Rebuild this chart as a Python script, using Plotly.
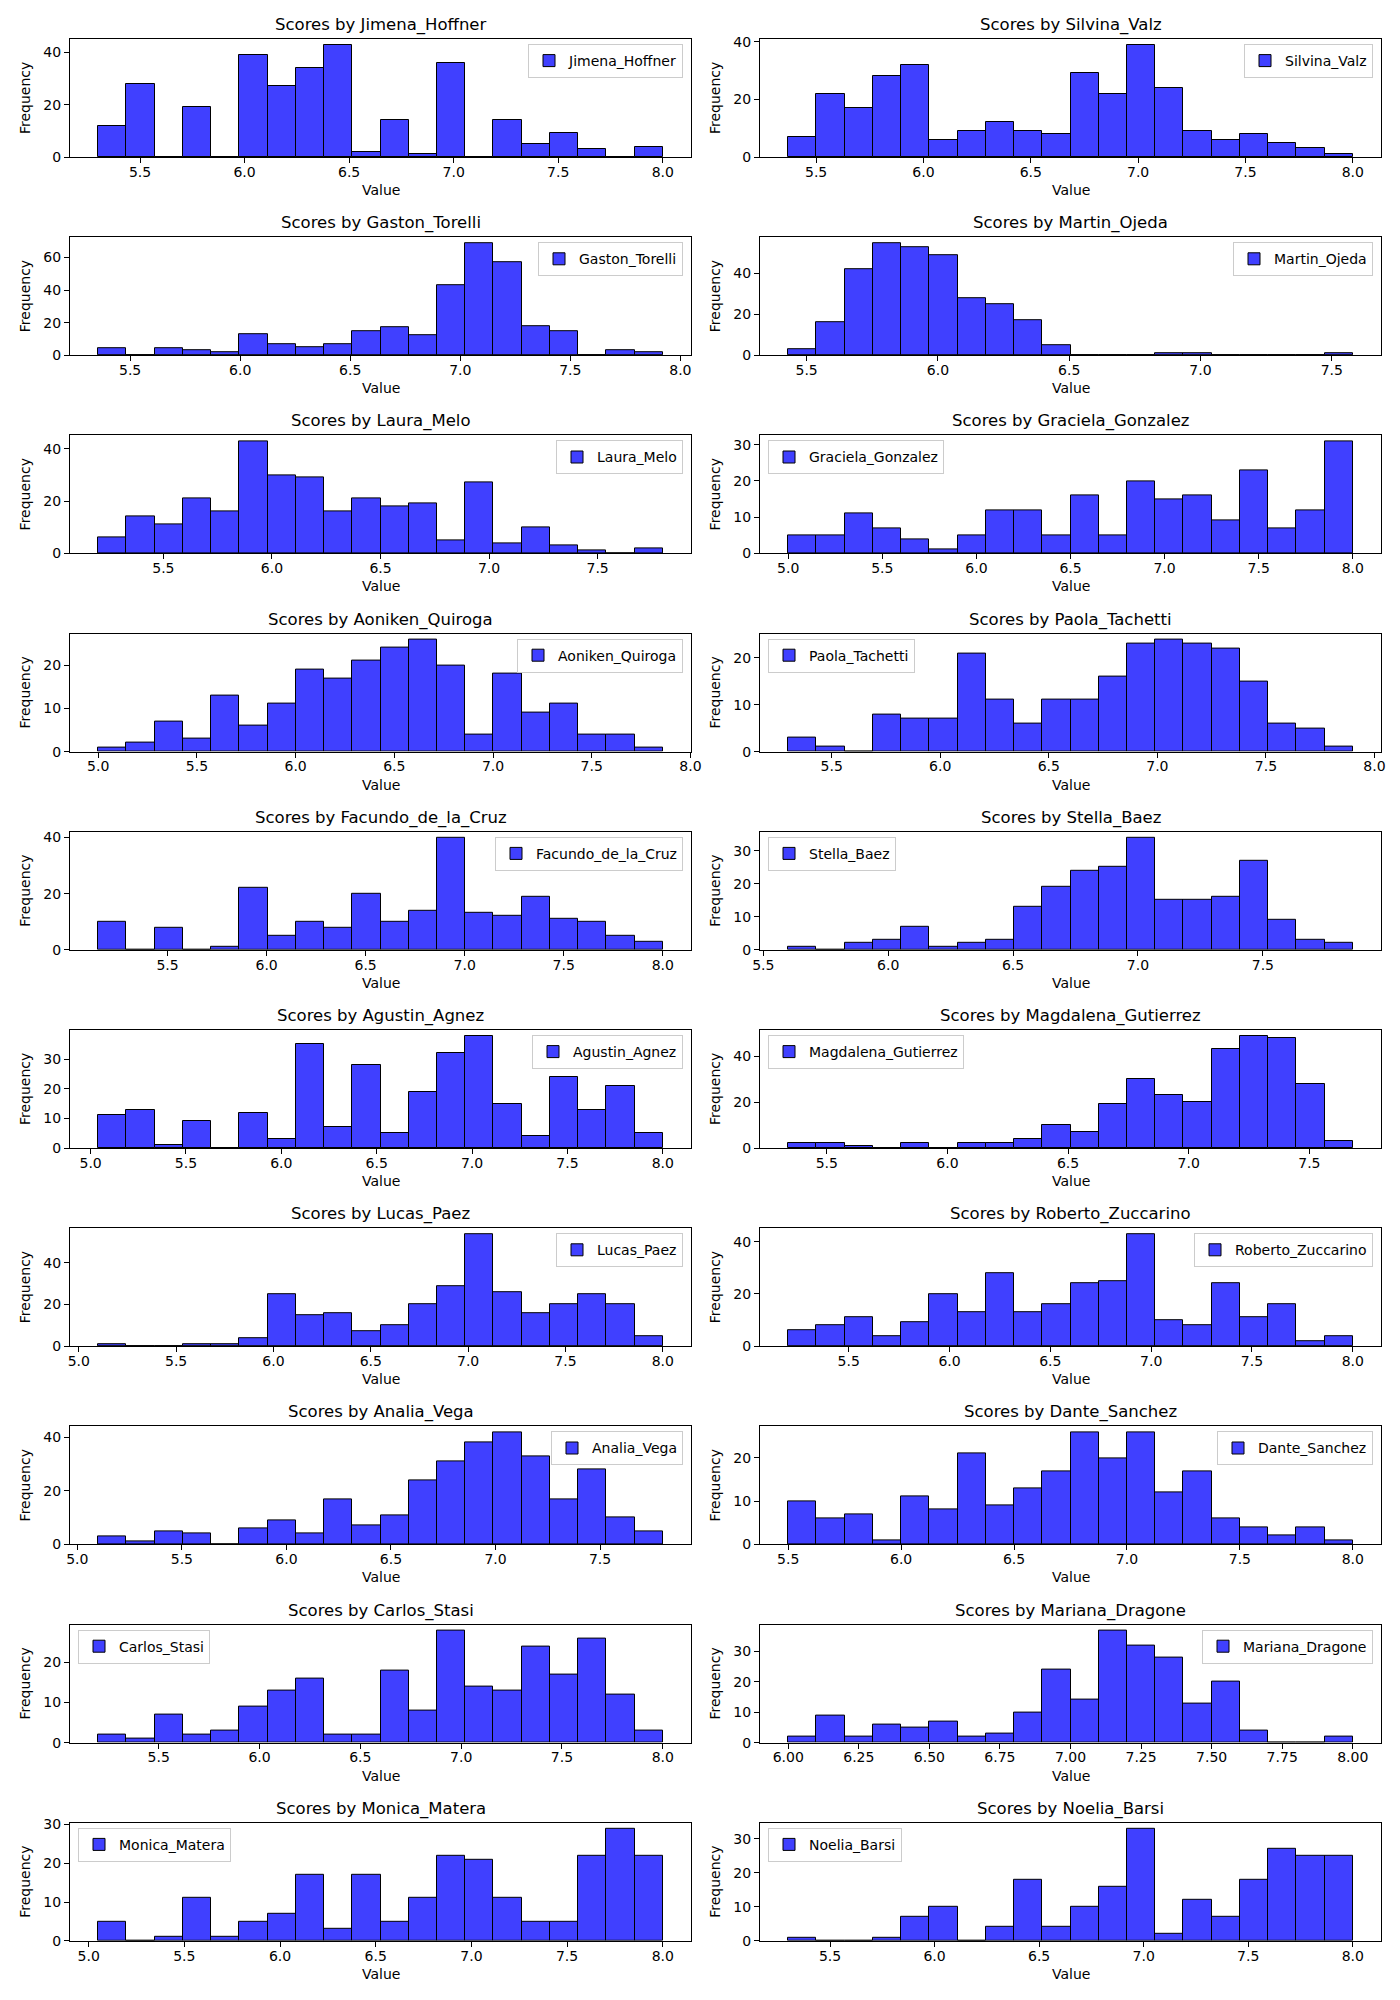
import plotly.graph_objects as go

names = ["Jimena_Hoffner", "Silvina_Valz", "Gaston_Torelli", "Martin_Ojeda",
         "Laura_Melo", "Graciela_Gonzalez", "Aoniken_Quiroga", "Paola_Tachetti",
         "Facundo_de_la_Cruz", "Stella_Baez", "Agustin_Agnez", "Magdalena_Gutierrez",
         "Lucas_Paez", "Roberto_Zuccarino", "Analia_Vega", "Dante_Sanchez",
         "Carlos_Stasi", "Mariana_Dragone", "Monica_Matera", "Noelia_Barsi"]

bin_lo = [5.30, 5.37, 5.355, 5.43, 5.20, 5.00, 5.00, 5.30, 5.15, 5.60,
          5.04, 5.34, 5.10, 5.20, 5.10, 5.50, 5.20, 6.00, 5.05, 5.30]
bin_hi = [8.00, 8.00, 7.92, 7.58, 7.80, 8.00, 7.86, 7.90, 8.00, 7.86,
          8.00, 7.68, 8.00, 8.00, 7.80, 8.00, 8.00, 8.00, 8.00, 8.00]

counts_jimena = [12, 28, 0, 19, 0, 39, 27, 34, 43, 2, 14, 1, 36, 0, 14, 5, 9, 3, 0, 4]
counts_silvina = [7, 22, 17, 28, 32, 6, 9, 12, 9, 8, 29, 22, 39, 24, 9, 6, 8, 5, 3, 1]
counts_gaston = [4, 0, 4, 3, 2, 13, 7, 5, 7, 15, 17, 12, 43, 69, 57, 18, 15, 0, 3, 2]
counts_martin = [3, 16, 42, 55, 53, 49, 28, 25, 17, 5, 0, 0, 0, 1, 1, 0, 0, 0, 0, 1]
counts_laura = [6, 14, 11, 21, 16, 43, 30, 29, 16, 21, 18, 19, 5, 27, 4, 10, 3, 1, 0, 2]
counts_graciela = [5, 5, 11, 7, 4, 1, 5, 12, 12, 5, 16, 5, 20, 15, 16, 9, 23, 7, 12, 31]
counts_aoniken = [1, 2, 7, 3, 13, 6, 11, 19, 17, 21, 24, 26, 20, 4, 18, 9, 11, 4, 4, 1]
counts_paola = [3, 1, 0, 8, 7, 7, 21, 11, 6, 11, 11, 16, 23, 24, 23, 22, 15, 6, 5, 1]
counts_facundo = [10, 0, 8, 0, 1, 22, 5, 10, 8, 20, 10, 14, 40, 13, 12, 19, 11, 10, 5, 3]
counts_stella = [1, 0, 2, 3, 7, 1, 2, 3, 13, 19, 24, 25, 34, 15, 15, 16, 27, 9, 3, 2]
counts_agustin = [11, 13, 1, 9, 0, 12, 3, 35, 7, 28, 5, 19, 32, 38, 15, 4, 24, 13, 21, 5]
counts_magdalena = [2, 2, 1, 0, 2, 0, 2, 2, 4, 10, 7, 19, 30, 23, 20, 43, 49, 48, 28, 3]
counts_lucas = [1, 0, 0, 1, 1, 4, 25, 15, 16, 7, 10, 20, 29, 54, 26, 16, 20, 25, 20, 5]
counts_roberto = [6, 8, 11, 4, 9, 20, 13, 28, 13, 16, 24, 25, 43, 10, 8, 24, 11, 16, 2, 4]
counts_analia = [3, 1, 5, 4, 0, 6, 9, 4, 17, 7, 11, 24, 31, 38, 42, 33, 17, 28, 10, 5]
counts_dante = [10, 6, 7, 1, 11, 8, 21, 9, 13, 17, 26, 20, 26, 12, 17, 6, 4, 2, 4, 1]
counts_carlos = [2, 1, 7, 2, 3, 9, 13, 16, 2, 2, 18, 8, 28, 14, 13, 24, 17, 26, 12, 3]
counts_mariana = [2, 9, 2, 6, 5, 7, 2, 3, 10, 24, 14, 37, 32, 28, 13, 20, 4, 0, 0, 2]
counts_monica = [5, 0, 1, 11, 1, 5, 7, 17, 3, 17, 5, 11, 22, 21, 11, 5, 5, 22, 29, 22]
counts_noelia = [1, 0, 0, 1, 7, 10, 0, 4, 18, 4, 10, 16, 33, 2, 12, 7, 18, 27, 25, 25]

all_counts = [counts_jimena, counts_silvina, counts_gaston, counts_martin,
              counts_laura, counts_graciela, counts_aoniken, counts_paola,
              counts_facundo, counts_stella, counts_agustin, counts_magdalena,
              counts_lucas, counts_roberto, counts_analia, counts_dante,
              counts_carlos, counts_mariana, counts_monica, counts_noelia]

legend_side = ["right", "right", "right", "right", "right", "left", "right", "left",
               "right", "left", "right", "left", "right", "right", "right", "right",
               "left", "right", "left", "left"]

x_tick_step = [0.5] * 17 + [0.25] + [0.5, 0.5]

W, H = 1400, 2000
col_px = [(62, 683), (752, 1373)]
top0, pitch, ax_h = 31, 198.2, 118

FONT = "DejaVu Sans"
fig = go.Figure()
annotations = []
layout = {}

for i, name in enumerate(names):
    r, c = divmod(i, 2)
    counts = all_counts[i]
    lo, hi = bin_lo[i], bin_hi[i]
    n = len(counts)
    bw = (hi - lo) / n
    centers = [lo + bw * (k + 0.5) for k in range(n)]

    left, right = col_px[c]
    top = top0 + pitch * r
    bottom = top + ax_h
    xd = [left / W, right / W]
    yd = [1 - bottom / H, 1 - top / H]

    sfx = "" if i == 0 else str(i + 1)
    leg = "legend" + sfx

    fig.add_trace(go.Bar(
        x=centers, y=counts, width=bw, name=name,
        marker=dict(color="rgba(0,0,255,0.75)", line=dict(color="black", width=1)),
        xaxis="x" + sfx, yaxis="y" + sfx, legend=leg, showlegend=True,
    ))

    span = hi - lo
    ymax = max(counts) * 1.05
    ystep = 10 if ymax < 40 else 20
    xstep = x_tick_step[i]

    common = dict(showline=True, mirror=True, linecolor="black", linewidth=1,
                  ticks="outside", ticklen=5, tickwidth=1, tickcolor="black",
                  showgrid=False, zeroline=False, automargin=False,
                  tickfont=dict(family=FONT, size=14, color="black"))
    layout["xaxis" + sfx] = dict(domain=xd, anchor="y" + sfx,
                                 range=[lo - 0.05 * span, hi + 0.05 * span],
                                 tick0=0, dtick=xstep, ticklabelstandoff=-3,
                                 tickformat=".2f" if xstep < 0.5 else ".1f", **common)
    layout["yaxis" + sfx] = dict(domain=yd, anchor="x" + sfx, range=[0, ymax],
                                 tick0=0, dtick=ystep, **common)

    if legend_side[i] == "right":
        lx, xa = (right - 8) / W, "right"
    else:
        lx, xa = (left + 8) / W, "left"
    layout[leg] = dict(x=lx, xanchor=xa, y=1 - (top + 5) / H, yanchor="top",
                       bgcolor="rgba(255,255,255,0.8)", bordercolor="#cccccc",
                       borderwidth=1, font=dict(family=FONT, size=14, color="black"),
                       itemclick=False)

    cx = (left + right) / 2 / W
    annotations.append(dict(text=f"Scores by {name}", x=cx, y=1 - (top - 14) / H,
                            xref="paper", yref="paper", xanchor="center", yanchor="middle",
                            showarrow=False, font=dict(family=FONT, size=16.5, color="black")))
    annotations.append(dict(text="Value", x=cx, y=1 - (bottom + 33) / H,
                            xref="paper", yref="paper", xanchor="center", yanchor="middle",
                            showarrow=False, font=dict(family=FONT, size=14, color="black")))
    annotations.append(dict(text="Frequency", x=(left - 45) / W, y=(yd[0] + yd[1]) / 2,
                            xref="paper", yref="paper", xanchor="center", yanchor="middle",
                            textangle=-90, showarrow=False,
                            font=dict(family=FONT, size=14, color="black")))

fig.update_layout(**layout)
fig.update_layout(width=W, height=H, margin=dict(l=0, r=0, t=0, b=0),
                  plot_bgcolor="white", paper_bgcolor="white",
                  annotations=annotations, bargap=0,
                  font=dict(family=FONT, color="black"))

fig.write_html("out.html")
